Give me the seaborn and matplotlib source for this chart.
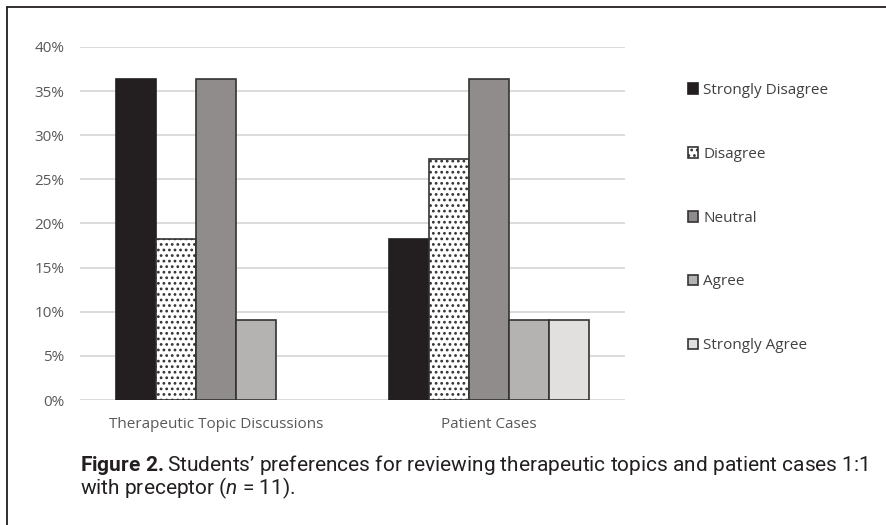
import matplotlib
matplotlib.use("Agg")
import matplotlib.pyplot as plt
import matplotlib.lines as mlines
from matplotlib.ticker import PercentFormatter
import seaborn as sns
import pandas as pd

# data (n = 11 students)
categories = ["Therapeutic Topic Discussions", "Patient Cases"]
levels = ["Strongly Disagree", "Disagree", "Neutral", "Agree", "Strongly Agree"]
therapeutic = [36.4, 18.2, 36.4, 9.1, 0.0]
patient = [18.2, 27.3, 36.4, 9.1, 9.1]
yticks = [0, 5, 10, 15, 20, 25, 30, 35, 40]

colors = ["#231f20", "#ffffff", "#8f8c8b", "#b4b3b2", "#e1e0df"]

rows = []
for cat, vals in zip(categories, [therapeutic, patient]):
    for lvl, v in zip(levels, vals):
        rows.append({"category": cat, "response": lvl, "pct": v})
df = pd.DataFrame(rows)

sns.set_style("white")
plt.rcParams["font.family"] = ["Open Sans", "DejaVu Sans"]
plt.rcParams["hatch.linewidth"] = 1.2
plt.rcParams["hatch.color"] = "#333333"
plt.rcParams["mathtext.fontset"] = "custom"
plt.rcParams["mathtext.it"] = "Roboto:italic"
plt.rcParams["mathtext.rm"] = "Roboto"
plt.rcParams["mathtext.bf"] = "Roboto:bold"

fig = plt.figure(figsize=(8.87, 5.25), dpi=100)
ax = fig.add_axes([80 / 887, 1 - 400 / 525, 545 / 887, 353 / 525])

sns.barplot(data=df, x="category", y="pct", hue="response", order=categories,
            hue_order=levels, palette=colors, width=0.734, ax=ax,
            edgecolor="#333333", linewidth=1.2, saturation=1, legend=False)

for lvl, cont in zip(levels, ax.containers):
    for p in cont:
        if lvl == "Disagree":
            p.set_hatch("...")
        if lvl == "Strongly Disagree":
            p.set_edgecolor("#231f20")
        if p.get_height() == 0:
            p.set_linewidth(0)

ax.set_ylim(0, 40)
ax.set_xlim(-0.5, 1.5)
ax.set_yticks(yticks)
ax.yaxis.set_major_formatter(PercentFormatter(decimals=0))
ax.grid(axis="y", color="#d9d9d9", linewidth=1.3)
ax.set_axisbelow(True)
for s in ax.spines.values():
    s.set_visible(False)
ax.tick_params(axis="both", length=0, colors="#595959", labelsize=11)
ax.tick_params(axis="y", pad=11)
ax.tick_params(axis="x", pad=12)
ax.set_xlabel("")
ax.set_ylabel("")

# legend
handles = []
for lvl, c in zip(levels, colors):
    h = plt.Rectangle((0, 0), 1, 1, facecolor=c,
                      edgecolor="#231f20" if lvl == "Strongly Disagree" else "#333333",
                      linewidth=1.2, hatch="..." if lvl == "Disagree" else None)
    handles.append(h)
fig.legend(handles, levels, loc="upper left", bbox_to_anchor=(674 / 887, 1 - 69 / 525),
           frameon=False, fontsize=11, handlelength=0.7, handleheight=0.7,
           handletextpad=0.3, labelspacing=3.2, labelcolor="#404040")

# caption
cap_font = ["Roboto", "DejaVu Sans"]
fig.text(80 / 887, 1 - 471 / 525,
         "$\\mathbf{Figure\\ 2.}$Students\u2019 preferences for reviewing therapeutic topics and patient cases 1:1",
         fontsize=15, family=cap_font, color="#231f20", va="baseline")
fig.text(80 / 887, 1 - 494 / 525, "with preceptor ($\\mathit{n}$ = 11).", fontsize=15,
         family=cap_font, color="#231f20", va="baseline")

# outer frame
fig.add_artist(mlines.Line2D([7 / 887, 1], [1 - 7 / 525, 1 - 7 / 525], color="#231f20", lw=1.3))
fig.add_artist(mlines.Line2D([7 / 887, 7 / 887], [0, 1 - 7 / 525], color="#231f20", lw=1.3))

fig.savefig("out.png", dpi=100)
